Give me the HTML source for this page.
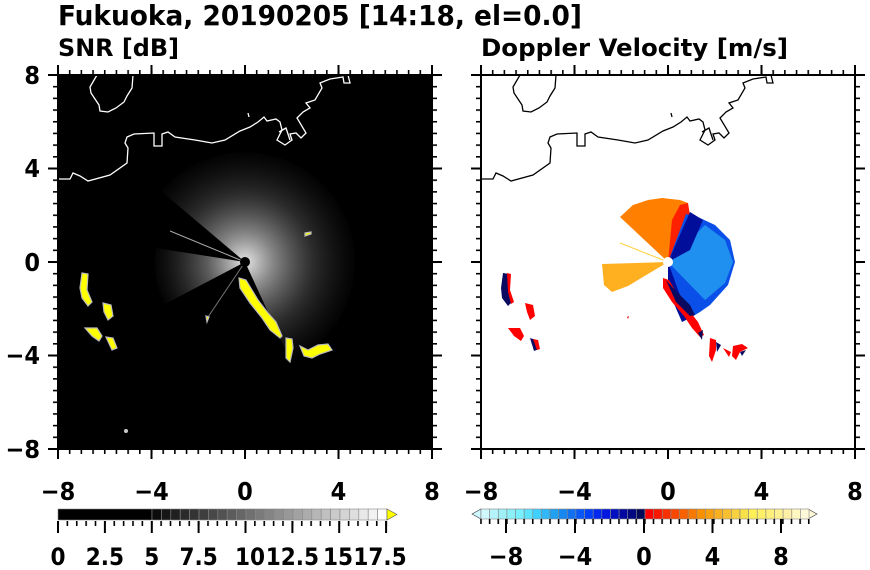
<!DOCTYPE html>
<html><head><meta charset="utf-8"><style>
html,body{margin:0;padding:0;background:#fff;width:870px;height:570px;overflow:hidden}
svg{display:block}
text{font-family:"DejaVu Sans Condensed","DejaVu Sans","Liberation Sans",sans-serif;font-weight:bold;fill:#000}
</style></head><body>
<svg width="870" height="570" viewBox="0 0 870 570" xmlns="http://www.w3.org/2000/svg">
<defs>
<pattern id="tx" patternUnits="userSpaceOnUse" x="57.2" y="0" width="11.6875" height="10"><rect x="0" y="0" width="1.6" height="10" fill="#000"/></pattern>
<pattern id="ty" patternUnits="userSpaceOnUse" x="0" y="74.2" width="10" height="11.6875"><rect x="0" y="0" width="10" height="1.6" fill="#000"/></pattern>
<pattern id="tc1" patternUnits="userSpaceOnUse" x="57.2" y="0" width="9.375" height="10"><rect x="0" y="0" width="1.6" height="10" fill="#000"/></pattern>
<pattern id="tc2" patternUnits="userSpaceOnUse" x="480.2" y="0" width="8.625" height="10"><rect x="0" y="0" width="1.6" height="10" fill="#000"/></pattern>
<radialGradient id="g1" cx="245" cy="262" r="115" gradientUnits="userSpaceOnUse">
<stop offset="0" stop-color="#fff" stop-opacity="0.9"/><stop offset="0.25" stop-color="#ddd" stop-opacity="0.6"/><stop offset="0.6" stop-color="#999" stop-opacity="0.28"/><stop offset="1" stop-color="#555" stop-opacity="0"/>
</radialGradient>
<radialGradient id="g2" cx="245" cy="262" r="95" gradientUnits="userSpaceOnUse">
<stop offset="0" stop-color="#fff" stop-opacity="0.9"/><stop offset="0.4" stop-color="#ccc" stop-opacity="0.45"/><stop offset="1" stop-color="#666" stop-opacity="0"/>
</radialGradient>
</defs>

<text x="58" y="25" font-size="28" textLength="524" lengthAdjust="spacingAndGlyphs">Fukuoka, 20190205 [14:18, el=0.0]</text>
<text x="58" y="56" font-size="24" textLength="121" lengthAdjust="spacingAndGlyphs">SNR [dB]</text>
<text x="481" y="56" font-size="24" textLength="307" lengthAdjust="spacingAndGlyphs">Doppler Velocity [m/s]</text>

<!-- LEFT PANEL -->
<rect x="58" y="75" width="374" height="374" fill="#000"/>
<path d="M245,262 L161,191 A110,110 0 1,1 291,362 Z" fill="url(#g1)"/>
<path d="M245,262 L156,248 A90,90 0 0,0 165,304 Z" fill="url(#g2)"/>
<line x1="245" y1="262" x2="170" y2="231" stroke="#aaa" stroke-width="1"/>
<line x1="245" y1="262" x2="206" y2="320" stroke="#777" stroke-width="1"/>
<circle cx="245" cy="262" r="5" fill="#000"/>
<g fill="#ff0" stroke="#bbb" stroke-width="1.2">
<path d="M82,273 L88,274 L87,290 L92,302 L88,306 L82,298 L80,288 Z"/>
<path d="M103,303 L111,305 L113,316 L108,320 L104,312 Z"/>
<path d="M85,328 L97,328 L102,336 L99,341 L92,336 Z"/>
<path d="M106,337 L113,338 L117,348 L112,350 Z"/>
<path d="M239,278 L246,280 L258,300 L268,313 L276,322 L282,336 L280,338 L270,330 L262,318 L250,303 L240,288 Z"/>
<path d="M286,338 L292,339 L293,348 L290,362 L286,358 Z"/>
<path d="M300,346 L308,350 L318,345 L328,344 L332,350 L320,354 L312,358 L304,356 Z"/>
<path d="M305,233 L311,232 L311,234 L305,236 Z"/>
<path d="M206,316 L209,317 L207,322 Z"/>
</g>
<circle cx="126" cy="431" r="2" fill="#ccc"/>
<g fill="none" stroke="#fff" stroke-width="1.3">
<path d="M58,179 L70,179 L73,173 L80,176 L88,181 L110,175 L127,163 L128,148 L125,143 L127,137 L134,134 L154,133 L154,146 L162,146 L162,134 L168,132 L175,137 L195,140 L212,143 L225,140 L240,131 L250,127 L258,122 L264,117 L267,121 L276,119 L280,122 L282,130 L277,140 L285,145 L292,140 L290,134 L296,133 L301,138 L306,133 L297,118 L303,112 L310,108 L306,103 L315,100 L322,88 L320,83 L330,79 L343,77 L344,83 L350,83 L348,75"/>
<path d="M279,132 L286,128 L290,140"/>
<path d="M97,75 L90,87 L91,93 L99,105 L100,111 L108,112 L116,108 L124,102 L127,96 L132,88 L133,75"/>
<path d="M248,113 L249,117"/>
</g>
<rect x="58" y="75" width="374" height="374" fill="none" stroke="#000" stroke-width="2"/>

<!-- RIGHT PANEL -->
<rect x="481" y="75" width="374" height="374" fill="#fff"/>
<path d="M668,262 L620,217 L633,205 L648,200 L662,198 L680,200 L688,203 L686,215 L672,240 Z" fill="#ff8000"/>
<path d="M668,262 L672,220 L680,205 L688,203 L690,215 L675,245 Z" fill="#ff2000"/>
<path d="M668,262 L686,214 L700,218 L715,225 L730,240 L735,262 L728,285 L710,305 L700,312 L690,318 L678,300 L670,275 Z" fill="#0a50e8"/>
<path d="M668,262 L705,225 L725,240 L733,262 L725,283 L705,300 Z" fill="#2090f0"/>
<path d="M668,262 L690,212 L703,220 L690,250 Z" fill="#000e9a"/>
<path d="M668,262 L678,290 L690,318 L682,322 L668,290 Z" fill="#000e9a"/>
<path d="M668,262 L602,264 L604,285 L612,292 L628,286 Z" fill="#ffb020"/>
<line x1="668" y1="262" x2="620" y2="243" stroke="#ffd040" stroke-width="1"/>
<circle cx="668" cy="262" r="5" fill="#fff"/>
<g stroke-width="1">
<path d="M503,273 L509,274 L508,290 L512,302 L508,306 L502,298 L501,288 Z" fill="#0a0a60"/>
<path d="M507,273 L511,274 L510,290 L514,302 L511,304 L508,292 Z" fill="#f00"/>
<path d="M525,303 L533,305 L535,316 L530,320 L527,312 Z" fill="#f00"/>
<path d="M508,328 L520,328 L524,336 L521,341 L514,336 Z" fill="#f00"/>
<path d="M530,338 L536,340 L539,349 L534,351 Z" fill="#0a0a60"/>
<path d="M533,339 L538,340 L540,349 L537,350 Z" fill="#f00"/>
<path d="M663,278 L669,280 L681,300 L691,313 L698,322 L704,335 L700,337 L692,328 L684,316 L672,302 L663,288 Z" fill="#f00"/>
<path d="M666,280 L675,290 L690,305 L695,315 L690,316 L676,302 Z" fill="#0a0a60"/>
<path d="M698,333 L703,330 L702,340 Z" fill="#0a0a60"/>
<path d="M710,338 L716,340 L716,350 L712,362 L709,356 Z" fill="#f00"/>
<path d="M716,342 L721,345 L717,352 Z" fill="#0a0a60"/>
<path d="M723,348 L731,352 L729,357 Z" fill="#f00"/>
<path d="M733,346 L742,344 L748,348 L740,352 L736,360 L732,356 Z" fill="#f00"/>
<path d="M740,352 L746,350 L742,356 Z" fill="#0a0a60"/>
<path d="M627,317 L629,316 L628,319 Z" fill="#f00"/>
</g>
<g fill="none" stroke="#000" stroke-width="1.3" transform="translate(423,0)">
<path d="M58,179 L70,179 L73,173 L80,176 L88,181 L110,175 L127,163 L128,148 L125,143 L127,137 L134,134 L154,133 L154,146 L162,146 L162,134 L168,132 L175,137 L195,140 L212,143 L225,140 L240,131 L250,127 L258,122 L264,117 L267,121 L276,119 L280,122 L282,130 L277,140 L285,145 L292,140 L290,134 L296,133 L301,138 L306,133 L297,118 L303,112 L310,108 L306,103 L315,100 L322,88 L320,83 L330,79 L343,77 L344,83 L350,83 L348,75"/>
<path d="M279,132 L286,128 L290,140"/>
<path d="M97,75 L90,87 L91,93 L99,105 L100,111 L108,112 L116,108 L124,102 L127,96 L132,88 L133,75"/>
<path d="M248,113 L249,117"/>
</g>
<rect x="481" y="75" width="374" height="374" fill="none" stroke="#000" stroke-width="2"/>

<rect x="57" y="70" width="376" height="5" fill="url(#tx)"/>
<rect x="57" y="449" width="376" height="5" fill="url(#tx)"/>
<rect x="53" y="74" width="5" height="376" fill="url(#ty)"/>
<rect x="432" y="74" width="5" height="376" fill="url(#ty)"/>
<g transform="translate(423,0)">
<rect x="57" y="70" width="376" height="5" fill="url(#tx)"/>
<rect x="57" y="449" width="376" height="5" fill="url(#tx)"/>
<rect x="53" y="74" width="5" height="376" fill="url(#ty)"/>
<rect x="432" y="74" width="5" height="376" fill="url(#ty)"/>
</g>
<g stroke="#000" stroke-width="2">
<path d="M58,75V65M151.5,75V65M245,75V65M338.5,75V65M432,75V65 M58,449V459M151.5,449V459M245,449V459M338.5,449V459M432,449V459 M58,75H48M58,168.5H48M58,262H48M58,355.5H48M58,449H48 M432,75H442M432,168.5H442M432,262H442M432,355.5H442M432,449H442"/>
<path transform="translate(423,0)" d="M58,75V65M151.5,75V65M245,75V65M338.5,75V65M432,75V65 M58,449V459M151.5,449V459M245,449V459M338.5,449V459M432,449V459 M58,75H48M58,168.5H48M58,262H48M58,355.5H48M58,449H48 M432,75H442M432,168.5H442M432,262H442M432,355.5H442M432,449H442"/>
</g>

<g font-size="25" text-anchor="end">
<text x="40" y="84">8</text><text x="40" y="177">4</text><text x="40" y="271">0</text><text x="40" y="458">−8</text><text x="40" y="364">−4</text>
</g>
<g font-size="25" text-anchor="middle">
<text x="58" y="500">−8</text><text x="151.5" y="500">−4</text><text x="245" y="500">0</text><text x="338.5" y="500">4</text><text x="432" y="500">8</text>
<text x="481" y="500">−8</text><text x="574.5" y="500">−4</text><text x="668" y="500">0</text><text x="761.5" y="500">4</text><text x="855" y="500">8</text>
</g>

<!-- LEFT COLORBAR -->
<g stroke="#888" stroke-width="0.6">
<rect x="58" y="509" width="94" height="11" fill="#000"/>
<rect x="152.0" y="509" width="9.4" height="11" fill="#0c0c0c"/>
<rect x="161.4" y="509" width="9.4" height="11" fill="#161616"/>
<rect x="170.8" y="509" width="9.4" height="11" fill="#202020"/>
<rect x="180.2" y="509" width="9.4" height="11" fill="#2a2a2a"/>
<rect x="189.6" y="509" width="9.4" height="11" fill="#343434"/>
<rect x="199.0" y="509" width="9.4" height="11" fill="#3e3e3e"/>
<rect x="208.4" y="509" width="9.4" height="11" fill="#484848"/>
<rect x="217.8" y="509" width="9.4" height="11" fill="#525252"/>
<rect x="227.2" y="509" width="9.4" height="11" fill="#5c5c5c"/>
<rect x="236.6" y="509" width="9.4" height="11" fill="#666"/>
<rect x="246.0" y="509" width="9.4" height="11" fill="#707070"/>
<rect x="255.4" y="509" width="9.4" height="11" fill="#7a7a7a"/>
<rect x="264.8" y="509" width="9.4" height="11" fill="#848484"/>
<rect x="274.2" y="509" width="9.4" height="11" fill="#8e8e8e"/>
<rect x="283.6" y="509" width="9.4" height="11" fill="#989898"/>
<rect x="293.0" y="509" width="9.4" height="11" fill="#a2a2a2"/>
<rect x="302.4" y="509" width="9.4" height="11" fill="#acacac"/>
<rect x="311.8" y="509" width="9.4" height="11" fill="#b6b6b6"/>
<rect x="321.2" y="509" width="9.4" height="11" fill="#c0c0c0"/>
<rect x="330.6" y="509" width="9.4" height="11" fill="#cacaca"/>
<rect x="340.0" y="509" width="9.4" height="11" fill="#d4d4d4"/>
<rect x="349.4" y="509" width="9.4" height="11" fill="#dedede"/>
<rect x="358.8" y="509" width="9.4" height="11" fill="#e8e8e8"/>
<rect x="368.2" y="509" width="9.4" height="11" fill="#f2f2f2"/>
<rect x="377.6" y="509" width="9.4" height="11" fill="#fcfcfc"/>
<path d="M387,509 L397,514.5 L387,520 Z" fill="#ff0" stroke="#555"/>
</g>
<rect x="57" y="521" width="331" height="5" fill="url(#tc1)"/>
<path stroke="#000" stroke-width="2" d="M58,521V533M104.9,521V533M151.8,521V533M198.6,521V533M245.5,521V533M292.4,521V533M339.2,521V533M386.1,521V533"/>
<g font-size="24" text-anchor="middle">
<text x="58" y="565">0</text><text x="104.9" y="565">2.5</text><text x="151.8" y="565">5</text><text x="198.6" y="565">7.5</text>
<text x="250" y="565">10</text><text x="292.4" y="565">12.5</text><text x="338" y="565">15</text><text x="380" y="565">17.5</text>
</g>

<!-- RIGHT COLORBAR -->
<g stroke="#888" stroke-width="0.6">
<path d="M481,509 L472,514 L481,519 Z" fill="#d0f8ff" stroke="#333"/>
<path d="M808,509 L817,514 L808,519 Z" fill="#fff8d8" stroke="#333"/>
<rect x="481.0" y="509" width="8.63" height="10" fill="#d0f8ff"/>
<rect x="489.6" y="509" width="8.63" height="10" fill="#b4f4fa"/>
<rect x="498.3" y="509" width="8.63" height="10" fill="#a0f0f8"/>
<rect x="506.9" y="509" width="8.63" height="10" fill="#8cf0f8"/>
<rect x="515.5" y="509" width="8.63" height="10" fill="#78f0ff"/>
<rect x="524.2" y="509" width="8.63" height="10" fill="#5ce4ff"/>
<rect x="532.8" y="509" width="8.63" height="10" fill="#40d0ff"/>
<rect x="541.4" y="509" width="8.63" height="10" fill="#30b8f8"/>
<rect x="550.0" y="509" width="8.63" height="10" fill="#20a0f0"/>
<rect x="558.7" y="509" width="8.63" height="10" fill="#1888f0"/>
<rect x="567.3" y="509" width="8.63" height="10" fill="#1070f0"/>
<rect x="575.9" y="509" width="8.63" height="10" fill="#0858f8"/>
<rect x="584.6" y="509" width="8.63" height="10" fill="#0040f8"/>
<rect x="593.2" y="509" width="8.63" height="10" fill="#0028f0"/>
<rect x="601.8" y="509" width="8.63" height="10" fill="#0018e0"/>
<rect x="610.5" y="509" width="8.63" height="10" fill="#0010c0"/>
<rect x="619.1" y="509" width="8.63" height="10" fill="#0008a0"/>
<rect x="627.7" y="509" width="8.63" height="10" fill="#000880"/>
<rect x="636.4" y="509" width="8.63" height="10" fill="#000858"/>
<rect x="645.0" y="509" width="8.63" height="10" fill="#ff0000"/>
<rect x="653.6" y="509" width="8.63" height="10" fill="#f81800"/>
<rect x="662.3" y="509" width="8.63" height="10" fill="#f83000"/>
<rect x="670.9" y="509" width="8.63" height="10" fill="#f84800"/>
<rect x="679.5" y="509" width="8.63" height="10" fill="#f86000"/>
<rect x="688.2" y="509" width="8.63" height="10" fill="#f87800"/>
<rect x="696.8" y="509" width="8.63" height="10" fill="#f89000"/>
<rect x="705.4" y="509" width="8.63" height="10" fill="#f8a010"/>
<rect x="714.1" y="509" width="8.63" height="10" fill="#f8b020"/>
<rect x="722.7" y="509" width="8.63" height="10" fill="#f8c030"/>
<rect x="731.3" y="509" width="8.63" height="10" fill="#f8d040"/>
<rect x="740.0" y="509" width="8.63" height="10" fill="#f8e048"/>
<rect x="748.6" y="509" width="8.63" height="10" fill="#fff058"/>
<rect x="757.2" y="509" width="8.63" height="10" fill="#fff068"/>
<rect x="765.9" y="509" width="8.63" height="10" fill="#fff07c"/>
<rect x="774.5" y="509" width="8.63" height="10" fill="#fff090"/>
<rect x="783.1" y="509" width="8.63" height="10" fill="#fff0a8"/>
<rect x="791.8" y="509" width="8.63" height="10" fill="#fff8c0"/>
<rect x="800.4" y="509" width="8.63" height="10" fill="#fff8d8"/>
</g>
<rect x="480" y="519" width="330" height="5" fill="url(#tc2)"/>
<path stroke="#000" stroke-width="2" d="M506,519V533M575,519V533M644,519V533M712.5,519V533M781,519V533"/>
<g font-size="25" text-anchor="middle">
<text x="506" y="565">−8</text><text x="575" y="565">−4</text><text x="644" y="565">0</text><text x="712.5" y="565">4</text><text x="781" y="565">8</text>
</g>
</svg>
</body></html>
